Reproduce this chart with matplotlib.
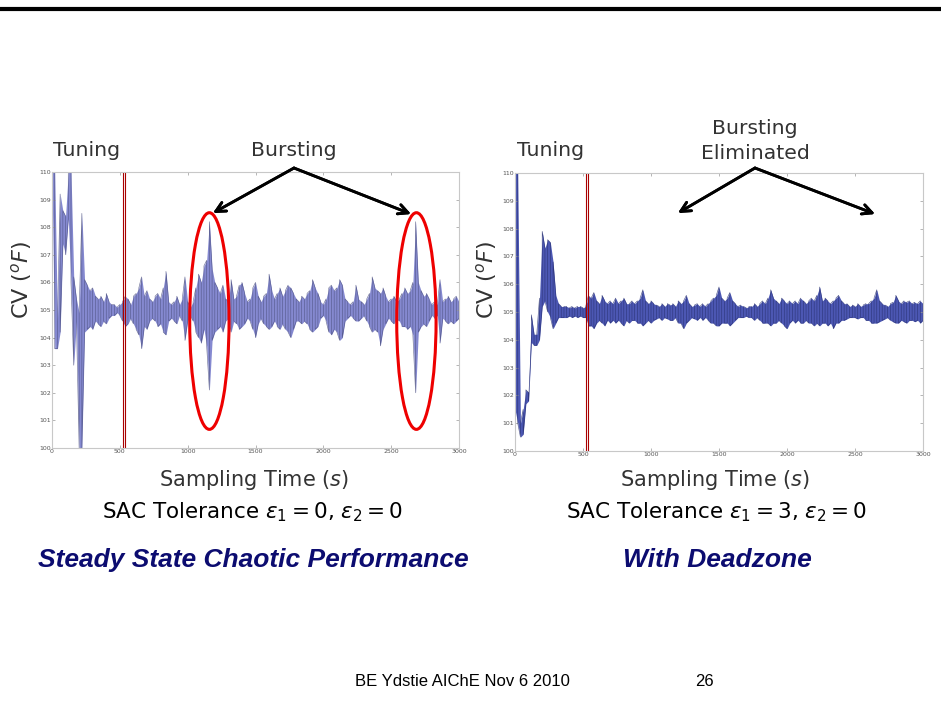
import numpy as np
import matplotlib
matplotlib.use('Agg')
import matplotlib.pyplot as plt
from matplotlib.patches import Ellipse
from matplotlib.lines import Line2D

# CV envelope (upper / lower) read every 20 s, SAC tolerance eps1 = 0
cv_hi_chaotic = [
    110, 110, 104.6, 109.2, 108.6, 108.4, 110, 110, 106.2, 105.4,
    104.9, 108.5, 106.1, 105.9, 105.7, 105.8, 105.5, 105.4, 105.5, 105.3,
    105.6, 105.3, 105.2, 105.2, 105.1, 105.2, 105.3, 105.5, 105.4, 105.2,
    105.5, 105.6, 105.8, 106.2, 105.5, 105.7, 105.4, 105.3, 105.5, 105.6,
    105.4, 105.8, 106.4, 105.3, 105.2, 105.3, 105.5, 105.2, 105.4, 106.2,
    105.3, 105.1, 105.3, 105.8, 106.3, 106.0, 106.6, 106.8, 108.2, 106.5,
    106.0, 105.8, 105.6, 105.9, 105.4, 105.3, 106.1, 105.4, 105.5, 105.9,
    106.0, 105.6, 105.3, 105.4, 105.8, 106.0, 105.5, 105.3, 105.5, 105.6,
    106.3, 105.7, 105.4, 105.6, 105.8, 105.5, 105.7, 105.9, 105.8, 105.6,
    105.4, 105.3, 105.5, 105.4, 105.6, 105.7, 106.1, 105.8, 105.6, 105.3,
    105.2, 105.4, 105.8, 105.9, 105.7, 105.8, 106.1, 105.9, 105.4, 105.3,
    105.2, 105.3, 105.9, 105.4, 105.3, 105.2, 105.4, 105.6, 106.2, 105.8,
    105.7, 105.6, 105.8, 105.5, 105.3, 105.4, 105.5, 105.3, 105.4, 105.6,
    105.8, 105.6, 105.7, 106.0, 108.2, 106.0, 105.7, 105.5, 105.6, 105.4,
    105.2, 105.3, 105.2, 106.1, 105.3, 105.4, 105.5, 105.3, 105.4, 105.5,
    105.3,
]
cv_lo_chaotic = [
    109.6, 103.6, 103.6, 104.2, 107.4, 107.0, 108.3, 106.0, 103.0, 104.6,
    100.0, 100.0, 104.2, 104.3, 104.4, 104.3, 104.6, 104.5, 104.4, 104.6,
    104.5, 104.7, 104.8, 104.8, 104.9, 104.8, 104.6, 104.4, 104.5, 104.7,
    104.5, 104.3, 104.1, 103.6, 104.4, 104.3, 104.6, 104.7, 104.6, 104.4,
    104.5, 104.2, 104.1, 104.6, 104.7, 104.6, 104.5, 104.8, 104.6, 103.9,
    104.6, 104.8, 104.6, 104.2, 104.0, 103.8, 104.3, 103.7, 102.1, 103.9,
    104.2, 104.3, 104.4, 104.2, 104.6, 104.7, 104.2, 104.6, 104.5, 104.3,
    104.4, 104.5, 104.7, 104.6, 104.3, 104.0, 104.5, 104.7, 104.5, 104.4,
    104.3, 104.4, 104.6, 104.4, 104.3, 104.5, 104.3, 104.2, 104.0, 104.3,
    104.6, 104.6, 104.5, 104.6, 104.5, 104.3, 104.2, 104.3, 104.4, 104.7,
    104.8, 104.6, 104.2, 104.1, 104.3, 104.2, 103.9, 104.0, 104.6, 104.7,
    104.8, 104.7, 104.6, 104.6, 104.7, 104.8, 104.6, 104.4, 104.2, 104.3,
    104.2, 103.7, 104.3, 104.5, 104.7, 104.6, 104.5, 104.7, 104.6, 104.4,
    104.4, 104.3, 104.4, 104.1, 102.0, 104.2, 104.4, 104.5, 104.4, 104.6,
    104.8, 104.7, 104.8, 103.8, 104.7, 104.6, 104.5, 104.6, 104.5, 104.6,
    104.7,
]

# same, with deadzone (eps1 = 3)
cv_hi_deadzone = [
    110, 110, 101.0, 101.5, 102.2, 102.1, 104.9, 104.2, 104.2, 105.5,
    107.9, 107.3, 107.6, 107.5, 106.8, 105.6, 105.3, 105.2, 105.2, 105.2,
    105.15, 105.2, 105.15, 105.2, 105.2, 105.15, 105.2, 105.6, 105.5, 105.7,
    105.4, 105.3, 105.6, 105.4, 105.3, 105.4, 105.3, 105.5, 105.3, 105.4,
    105.5, 105.3, 105.3, 105.4, 105.3, 105.4, 105.5, 105.8, 105.4, 105.3,
    105.4, 105.3, 105.25, 105.2, 105.3, 105.2, 105.3, 105.25, 105.3, 105.2,
    105.4, 105.3, 105.4, 105.6, 105.3, 105.2, 105.25, 105.3, 105.2, 105.3,
    105.2, 105.3, 105.4, 105.5, 105.6, 105.9, 105.5, 105.4, 105.5, 105.7,
    105.4, 105.3, 105.2, 105.25, 105.2, 105.15, 105.2, 105.2, 105.3, 105.2,
    105.3, 105.4, 105.3, 105.5, 105.8, 105.5, 105.4, 105.3, 105.5, 105.4,
    105.3, 105.4, 105.3, 105.4, 105.3, 105.5, 105.4, 105.3, 105.4, 105.5,
    105.4, 105.6, 105.9, 105.4, 105.5, 105.4, 105.3, 105.4, 105.5, 105.6,
    105.4, 105.3, 105.3, 105.2, 105.25, 105.2, 105.3, 105.2, 105.25, 105.3,
    105.3, 105.4, 105.5, 105.8, 105.4, 105.3, 105.25, 105.2, 105.3, 105.35,
    105.6, 105.4, 105.3, 105.4, 105.35, 105.4, 105.3, 105.35, 105.3, 105.4,
    105.3,
]
cv_lo_deadzone = [
    101.5, 101.0, 100.5, 100.6, 101.7, 101.8, 103.9, 103.8, 103.8, 104.0,
    105.2, 105.4, 105.0, 104.8, 104.4, 104.6, 104.8, 104.8, 104.8, 104.8,
    104.85, 104.8, 104.85, 104.8, 104.85, 104.8, 104.8, 104.5, 104.5, 104.4,
    104.6, 104.7, 104.6, 104.5, 104.7, 104.6, 104.7, 104.6, 104.7, 104.6,
    104.5, 104.7, 104.6, 104.7, 104.7, 104.6, 104.6, 104.5, 104.6, 104.7,
    104.6, 104.7, 104.75, 104.8, 104.7, 104.8, 104.75, 104.7, 104.7, 104.8,
    104.6, 104.6, 104.4, 104.6, 104.7, 104.8, 104.75, 104.7, 104.8, 104.7,
    104.8, 104.7, 104.6, 104.6, 104.5, 104.5, 104.6, 104.6, 104.6, 104.5,
    104.6, 104.7, 104.8, 104.8, 104.8, 104.85, 104.8, 104.8, 104.7, 104.8,
    104.7, 104.6, 104.6, 104.6, 104.5, 104.6, 104.6, 104.7, 104.6, 104.5,
    104.4, 104.6, 104.7, 104.6, 104.7, 104.6, 104.6, 104.7, 104.6, 104.6,
    104.5, 104.6, 104.5, 104.6, 104.6, 104.5, 104.6, 104.4, 104.6, 104.6,
    104.7, 104.7, 104.75, 104.8, 104.8, 104.8, 104.75, 104.8, 104.8, 104.7,
    104.7, 104.6, 104.6, 104.6, 104.65, 104.7, 104.75, 104.8, 104.7, 104.65,
    104.6, 104.6, 104.7, 104.65, 104.6, 104.7, 104.7, 104.65, 104.7, 104.6,
    104.7,
]

tuning_end = 530          # end of tuning phase (s)
burst_times = [1160, 2686]  # bursting events in the chaotic run
x_ticks = [0, 500, 1000, 1500, 2000, 2500, 3000]
y_ticks = list(range(100, 111))

W, H = 941, 721


def fpos(x, y):
    # pixel position (from top-left) -> figure fraction
    return x / W, 1 - y / H


def zigzag(t, hi, lo):
    xs, ys = [], []
    for i in range(len(t)):
        xs += [t[i], t[i]]
        ys += [lo[i], hi[i]] if i % 2 == 0 else [hi[i], lo[i]]
    return xs, ys


def cv_panel(rect, hi, lo, band_col, line_col):
    ax = fig.add_axes(rect)
    t = np.linspace(0, 3000, len(hi))
    ax.fill_between(t, lo, hi, color=band_col, lw=0, alpha=0.85)
    xs, ys = zigzag(t, hi, lo)
    ax.plot(xs, ys, color=line_col, lw=0.45, alpha=0.8)
    ax.axvline(tuning_end - 8, color='#a80000', lw=0.8)
    ax.axvline(tuning_end + 8, color='#a80000', lw=0.8)
    ax.set_xlim(0, 3000)
    ax.set_ylim(100, 110)
    ax.set_xticks(x_ticks)
    ax.set_yticks(y_ticks)
    ax.tick_params(direction='in', length=2.5, width=0.5, labelsize=4.5,
                   colors='#999999', labelcolor='#555555', pad=1,
                   top=True, right=True)
    for s in ax.spines.values():
        s.set_color('#c8c8c8')
        s.set_linewidth(0.8)
    return ax


fig = plt.figure(figsize=(W / 100, H / 100), dpi=100)

# slide header rule
fig.add_artist(Line2D([0, 1], [1 - 9 / H, 1 - 9 / H], color='black', lw=3))

ax1 = cv_panel([52 / W, 1 - 448 / H, 407 / W, 276 / H],
               cv_hi_chaotic, cv_lo_chaotic, '#7075c8', '#4c5080')
ax2 = cv_panel([515 / W, 1 - 451 / H, 408 / W, 278 / H],
               cv_hi_deadzone, cv_lo_deadzone, '#2c3aa6', '#283070')

for ax, cx, lx in [(ax1, 254, 22), (ax2, 715, 486)]:
    fig.text(*fpos(lx, 280), r'CV $(^oF)$', rotation=90, ha='center',
             va='center', fontsize=16, color='#333333')
    fig.text(*fpos(cx, 480), r'Sampling Time $(s)$', ha='center',
             va='center', fontsize=15, color='#333333')

fig.text(*fpos(253, 512), r'SAC Tolerance $\varepsilon_1 = 0$, $\varepsilon_2 = 0$',
         ha='center', va='center', fontsize=15.5, color='black')
fig.text(*fpos(717, 512), r'SAC Tolerance $\varepsilon_1 = 3$, $\varepsilon_2 = 0$',
         ha='center', va='center', fontsize=15.5, color='black')

fig.text(*fpos(253, 560), 'Steady State Chaotic Performance', ha='center',
         va='center', fontsize=19, fontweight='bold', fontstyle='italic',
         family='Liberation Sans', color='#0c0c70')
fig.text(*fpos(717, 560), 'With Deadzone', ha='center',
         va='center', fontsize=19, fontweight='bold', fontstyle='italic',
         family='Liberation Sans', color='#0c0c70')

# annotations
fig.text(*fpos(87, 151), 'Tuning', ha='center', va='center', fontsize=14.7, color='#333333')
fig.text(*fpos(551, 151), 'Tuning', ha='center', va='center', fontsize=14.7, color='#333333')
fig.text(*fpos(294, 150), 'Bursting', ha='center', va='center', fontsize=14.7, color='#333333')
fig.text(*fpos(755, 141), 'Bursting\nEliminated', ha='center', va='center',
         fontsize=14.7, color='#333333', linespacing=1.4)

arrow = dict(arrowstyle='->,head_length=0.7,head_width=0.35', color='black',
             lw=2, shrinkA=0, shrinkB=0)
for start, end in [((294, 168), (213, 213)), ((294, 168), (411, 214)),
                   ((755, 168), (678, 213)), ((755, 168), (875, 214))]:
    fig.add_artist(plt.annotate('', xy=fpos(*end), xytext=fpos(*start),
                                xycoords='figure fraction',
                                textcoords='figure fraction', arrowprops=arrow))

for tb in burst_times:
    ax1.add_patch(Ellipse((tb, 104.6), 290, 7.85, fill=False, edgecolor='#ee0000',
                          lw=2.2, clip_on=False, zorder=5))

fig.text(*fpos(462, 681), 'BE Ydstie AIChE Nov 6 2010', ha='center', va='center',
         fontsize=12, family='Liberation Sans', color='black')
fig.text(*fpos(704, 681), '26', ha='center', va='center',
         fontsize=12, family='Liberation Sans', color='black')

fig.savefig('out.png', dpi=100)
